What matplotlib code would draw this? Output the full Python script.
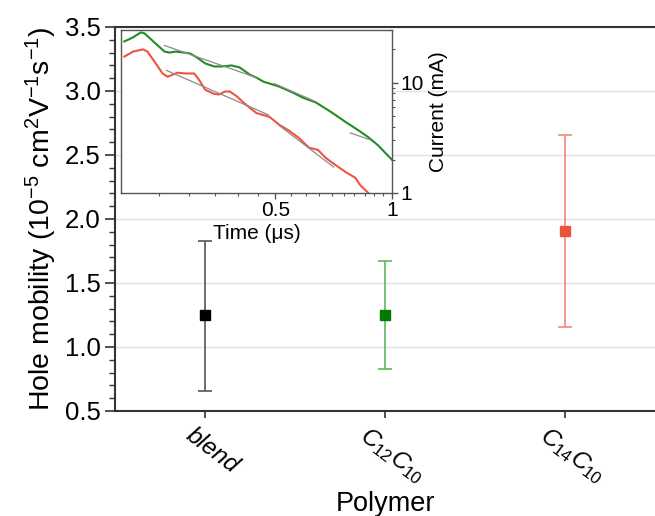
import numpy as np
import matplotlib
matplotlib.use("Agg")
import matplotlib.pyplot as plt
import matplotlib.transforms as mtransforms
from matplotlib.ticker import FixedLocator, NullFormatter, FixedFormatter, MultipleLocator

plt.rcParams['font.family'] = ['Liberation Sans', 'DejaVu Sans']
plt.rcParams['mathtext.fontset'] = 'custom'
plt.rcParams['mathtext.rm'] = 'Liberation Sans'
plt.rcParams['mathtext.it'] = 'Liberation Sans:italic'

# main panel: hole mobility per polymer
polymers = ['blend', r'$\mathit{C}_{\mathit{12}}\mathit{C}_{\mathit{10}}$', r'$\mathit{C}_{\mathit{14}}\mathit{C}_{\mathit{10}}$']
mobility = [1.25, 1.25, 1.91]
mob_low = [0.66, 0.83, 1.16]
mob_high = [1.83, 1.67, 2.66]
marker_colors = ['#000000', '#007a00', '#e8553a']
bar_colors = ['#555555', '#5fb55f', '#f08878']

# inset: TOF transients (log-log)
t_green = [0.204, 0.215, 0.225, 0.230, 0.244, 0.259, 0.267, 0.276, 0.291, 0.302, 0.314, 0.330,
           0.348, 0.364, 0.386, 0.405, 0.430, 0.447, 0.466, 0.512, 0.556, 0.589, 0.637, 0.703,
           0.759, 0.819, 0.869, 0.921, 1.0]
i_green = [23.6, 25.7, 28.5, 27.9, 23.1, 19.1, 18.7, 19.1, 18.7, 18.3, 16.9, 14.9,
           14.0, 14.0, 14.3, 13.7, 11.8, 11.1, 10.2, 9.2, 8.1, 7.3, 6.6, 5.3,
           4.4, 3.7, 3.2, 2.7, 2.0]
t_red = [0.204, 0.215, 0.228, 0.234, 0.244, 0.256, 0.264, 0.272, 0.280, 0.293, 0.309, 0.318,
         0.330, 0.348, 0.358, 0.371, 0.382, 0.398, 0.414, 0.430, 0.447, 0.455, 0.483, 0.512,
         0.543, 0.575, 0.611, 0.644, 0.675, 0.703, 0.759, 0.805, 0.828, 0.869, 0.89]
i_red = [17.2, 19.1, 20.0, 19.1, 15.5, 12.1, 11.3, 11.8, 12.3, 12.1, 12.1, 10.6,
         8.6, 7.9, 7.8, 8.3, 8.3, 7.5, 6.6, 5.9, 5.3, 5.2, 4.9, 4.15,
         3.66, 3.16, 2.57, 2.46, 2.08, 1.87, 1.55, 1.37, 1.18, 1.0, 0.9]
# asymptote fits (start/end points)
fit_t = [[0.259, 0.447], [0.497, 0.637], [0.781, 0.879], [0.262, 0.480], [0.509, 0.707]]
fit_i = [[21.7, 11.1], [9.8, 6.7], [3.5, 3.03], [12.9, 5.1], [4.15, 1.72]]

fig = plt.figure(figsize=(6.55, 5.16), dpi=100)
ax = fig.add_axes([0.1756, 0.2035, 0.8244, 0.7442])

x = np.arange(len(polymers))
for k in range(len(polymers)):
    ax.errorbar(x[k], mobility[k],
                yerr=[[mobility[k] - mob_low[k]], [mob_high[k] - mobility[k]]],
                fmt='none', ecolor=bar_colors[k], elinewidth=1.2, capsize=5, capthick=1.2)
    ax.plot(x[k], mobility[k], 's', color=marker_colors[k], markersize=7, zorder=3)

ax.set_xlim(-0.5, 2.5)
ax.set_ylim(0.5, 3.5)
ax.set_yticks(np.arange(0.5, 3.51, 0.5))
ax.yaxis.set_minor_locator(MultipleLocator(0.1))
ax.set_xticks(x)
ax.set_xticklabels(polymers, rotation=-37, ha='center', fontsize=17.5, style='italic')
ax.grid(axis='y', color='#e2e2e2', linewidth=1)
ax.set_axisbelow(True)
for s in ['left', 'bottom', 'top']:
    ax.spines[s].set_color('#333333')
    ax.spines[s].set_linewidth(1.5)
ax.spines['right'].set_visible(False)
ax.tick_params(axis='y', which='major', length=7, width=1.2, labelsize=18.5, colors='#333333', labelcolor='black')
ax.tick_params(axis='y', which='minor', length=4, width=1, colors='#333333')
ax.tick_params(axis='x', which='major', length=5, width=1.2, colors='#333333', labelcolor='black', pad=4)
# nudge rotated labels a little to the right (after tick_params, which resets transforms)
shift = mtransforms.ScaledTranslation(7 / 100, 0, fig.dpi_scale_trans)
for tick in ax.xaxis.get_major_ticks():
    tick.label1.set_transform(tick.label1.get_transform() + shift)
ax.set_ylabel(r'Hole mobility (10$^{\mathregular{-5}}$ cm$^{\mathregular{2}}$V$^{\mathregular{-1}}$s$^{\mathregular{-1}}$)',
              fontsize=20.5, labelpad=4)
ax.set_xlabel('Polymer', fontsize=19.5, labelpad=2)

# inset
ins = fig.add_axes([0.1847, 0.626, 0.4137, 0.316])
ins.set_facecolor('white')
ins.plot(t_green, i_green, color='#238b23', linewidth=1.5)
ins.plot(t_red, i_red, color='#f0533e', linewidth=1.5)
for ft, fi in zip(fit_t, fit_i):
    ins.plot(ft, fi, color='#8c8c8c', linewidth=0.9)
ins.set_xscale('log')
ins.set_yscale('log')
ins.set_xlim(0.2, 1.0)
ins.set_ylim(1, 30)
ins.xaxis.set_major_locator(FixedLocator([0.5, 1.0]))
ins.xaxis.set_major_formatter(FixedFormatter(['0.5', '1']))
ins.xaxis.set_minor_locator(FixedLocator(np.arange(0.25, 0.99, 0.05)))
ins.xaxis.set_minor_formatter(NullFormatter())
ins.yaxis.set_major_locator(FixedLocator([1, 10]))
ins.yaxis.set_major_formatter(FixedFormatter(['1', '10']))
ins.yaxis.set_minor_locator(FixedLocator([2, 3, 4, 5, 6, 7, 8, 9, 20]))
ins.yaxis.set_minor_formatter(NullFormatter())
ins.yaxis.tick_right()
ins.yaxis.set_label_position('right')
for s in ins.spines.values():
    s.set_color('#555555')
    s.set_linewidth(1.0)
ins.tick_params(which='major', length=4, width=1, labelsize=15, colors='#555555', labelcolor='black', pad=2)
ins.tick_params(which='minor', length=2.5, width=0.8, colors='#555555')
ins.set_xlabel(u'Time (\u03bcs)', fontsize=15, labelpad=3)
ins.set_ylabel('Current (mA)', fontsize=15, labelpad=4)

fig.savefig('out.png', dpi=100)
